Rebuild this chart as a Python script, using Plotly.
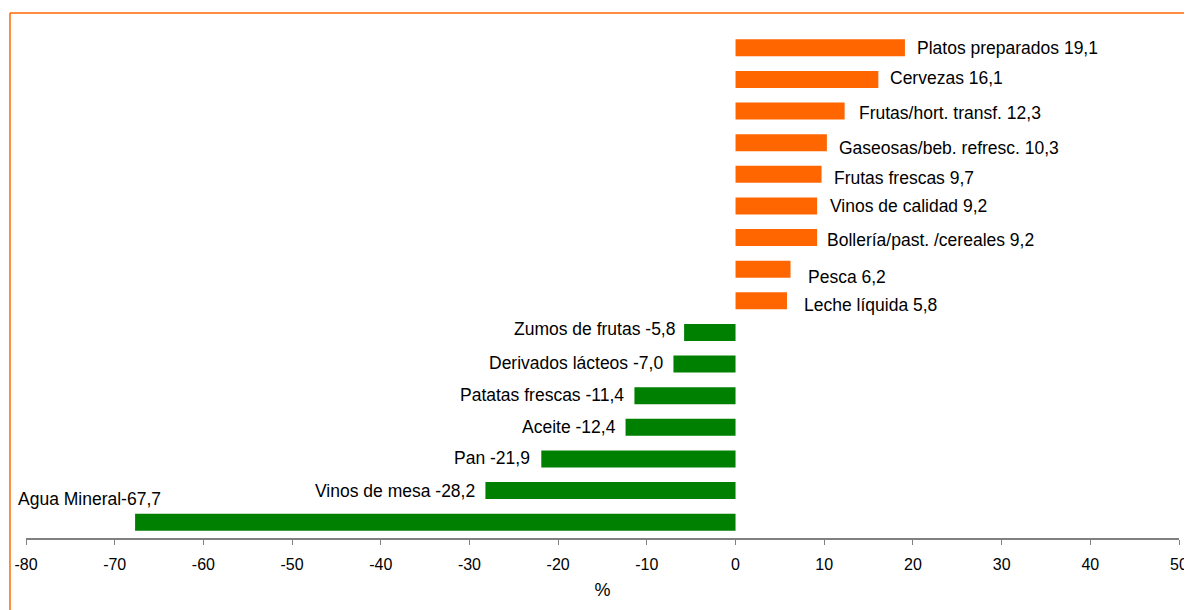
import plotly.graph_objects as go

# Variación (%) por producto, de arriba a abajo
categorias = [
    "Platos preparados", "Cervezas", "Frutas/hort. transf.", "Gaseosas/beb. refresc.",
    "Frutas frescas", "Vinos de calidad", "Bollería/past. /cereales", "Pesca",
    "Leche líquida", "Zumos de frutas", "Derivados lácteos", "Patatas frescas",
    "Aceite", "Pan", "Vinos de mesa", "Agua Mineral",
]
valores = [19.1, 16.1, 12.3, 10.3, 9.7, 9.2, 9.2, 6.2, 5.8,
           -5.8, -7.0, -11.4, -12.4, -21.9, -28.2, -67.7]
ticks = list(range(-80, 51, 10))

# pixel nudges for the labels (xshift, yshift), as laid out in the original
label_shift = [(10, 0), (10, 1), (12, -2), (10, -5), (10, -4), (11, 0), (8, -2), (15, -8), (15, -4),
               (-7, 3), (-8, 1), (-8, 1), (-8, 0), (-9, 1), (-8, 0), (28, 23)]

colores = ['#FF6600' if v > 0 else '#008000' for v in valores]

fig = go.Figure()
fig.add_trace(go.Bar(
    x=valores,
    y=categorias,
    orientation='h',
    marker=dict(color=colores, line=dict(width=0)),
    hoverinfo='x+y',
))

for cat, v, (dx, dy) in zip(categorias, valores, label_shift):
    num = f"{v:.1f}".replace('.', ',')
    sep = '' if cat == "Agua Mineral" else ' '
    fig.add_annotation(
        x=v, y=cat, xref='x', yref='y',
        text=f"{cat}{sep}{num}",
        showarrow=False,
        xanchor='left' if v > 0 else 'right',
        xshift=dx, yshift=dy,
        font=dict(size=17.5, color='black', family='Liberation Sans, Arial'),
    )

# orange frame (top and left only)
fig.add_shape(type='line', xref='paper', yref='paper', x0=-0.0139, x1=1.03, y0=1.0375, y1=1.0375,
              line=dict(color='#FF6600', width=1.5))
fig.add_shape(type='line', xref='paper', yref='paper', x0=-0.0139, x1=-0.0139, y0=1.0375, y1=-0.2,
              line=dict(color='#FF6600', width=1.5))

# page body adds an 8px offset, so margins are pulled in by 8px on the left/top
fig.update_layout(
    width=1192, height=610,
    margin=dict(l=18, r=21, t=24, b=80, autoexpand=False),
    plot_bgcolor='white', paper_bgcolor='white',
    bargap=0.46,
    showlegend=False,
    font=dict(family='Liberation Sans, Arial', color='black'),
    xaxis=dict(
        range=[-80, 50],
        tickvals=ticks,
        ticktext=[str(t) for t in ticks],
        tickfont=dict(size=16, color='black'),
        ticklabelstandoff=6,
        automargin=False,
        showgrid=False, zeroline=False,
        showline=True, linecolor='#808080', linewidth=1.5,
        ticks='outside', ticklen=5, tickcolor='#808080',
        title=dict(text='%', font=dict(size=18, color='black'), standoff=11),
    ),
    yaxis=dict(
        range=[len(categorias) - 0.5, -0.5],
        showticklabels=False,
        automargin=False,
        showgrid=False, zeroline=False, showline=False,
    ),
)

fig.write_html("out.html")
